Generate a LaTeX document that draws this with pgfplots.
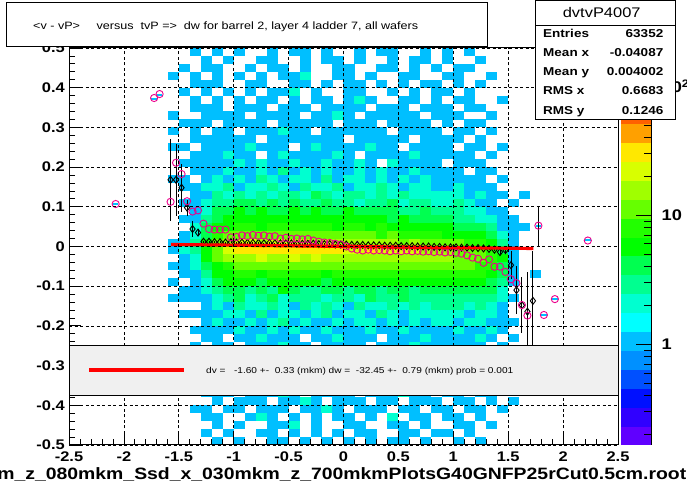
\documentclass[border=0pt]{standalone}
\usepackage{fontspec}
\setmainfont[FakeStretch=1.18]{Liberation Sans}
\usepackage{pgfplots}
\usepackage{pgfplotstable}
\pgfplotsset{compat=1.18}
\definecolor{lgray}{RGB}{240,240,240}
\definecolor{b6}{RGB}{0,191,255}
\definecolor{b8}{RGB}{0,255,208}
\definecolor{b9}{RGB}{0,255,144}
\definecolor{b10}{RGB}{0,255,80}
\definecolor{b11}{RGB}{0,255,0}
\definecolor{b12}{RGB}{34,255,0}
\definecolor{b13}{RGB}{102,255,0}
\definecolor{b14}{RGB}{160,255,0}
\definecolor{b15}{RGB}{216,255,0}
\definecolor{b16}{RGB}{255,232,0}
\pgfdeclareplotmark{cell}{\pgfpathrectangle{\pgfqpoint{-5.55bp}{-4.02bp}}{\pgfqpoint{11.1bp}{8.04bp}}\pgfusepathqfill}
\pgfdeclareplotmark{fcell}{\pgfpathrectangle{\pgfqpoint{-2.75bp}{-1bp}}{\pgfqpoint{5.5bp}{2bp}}\pgfusepathqfill}
\pgfdeclareplotmark{nocell}{}
\pgfplotsset{colormap={rootpal}{rgb255=(96,0,255) rgb255=(48,0,255) rgb255=(0,16,255) rgb255=(0,80,255) rgb255=(0,144,255) rgb255=(0,191,255) rgb255=(0,255,255) rgb255=(0,255,208) rgb255=(0,255,144) rgb255=(0,255,80) rgb255=(0,255,0) rgb255=(34,255,0) rgb255=(102,255,0) rgb255=(160,255,0) rgb255=(216,255,0) rgb255=(255,232,0) rgb255=(255,160,0) rgb255=(255,96,0) rgb255=(255,48,0) rgb255=(255,0,0) rgb255=(255,0,0)}}
% colour of a cell from its count (log colour scale, bands of 0.154 decade)
\pgfplotsset{histcells/.style={scatter, only marks, mark=cell, point meta=explicit symbolic,
  scatter/classes={0={mark=nocell},1={fill=b6},2={fill=b8},3={fill=b9},4={fill=b9},5={fill=b10},
  6={fill=b11},7={fill=b11},8={fill=b11},9={fill=b12},10={fill=b12},11={fill=b12},
  12={fill=b13},13={fill=b13},14={fill=b13},15={fill=b13},16={fill=b13},
  17={fill=b14},18={fill=b14},19={fill=b14},20={fill=b14},21={fill=b14},22={fill=b14},23={fill=b14},
  24={fill=b15},25={fill=b15},26={fill=b15},27={fill=b15},28={fill=b15},29={fill=b15},30={fill=b15},
  31={fill=b15},32={fill=b15},33={fill=b15},34={fill=b16},35={fill=b16},36={fill=b16},37={fill=b16},
  38={fill=b16},39={fill=b16},40={fill=b16},41={fill=b16},42={fill=b16},43={fill=b16},44={fill=b16},45={fill=b16}}}}
% counts per cell: columns x = -1.55, -1.45, ..., 1.75 ; rows y = 0.49 ... -0.49
\pgfplotstableread{
y a1 a2 a3 a4 a5 a6 a7 a8 a9 a10 a11 a12 a13 a14 a15 a16 a17 a18 a19 a20 a21 a22 a23 a24 a25 a26 a27 a28 a29 a30 a31 a32 a33 a34
0.49 0 0 1 0 1 0 1 0 0 1 0 1 1 0 1 0 0 1 0 1 1 0 0 1 0 1 0 1 0 0 0 0 0 0
0.47 0 0 0 1 0 1 0 0 1 1 0 0 1 0 1 1 0 1 0 0 1 0 1 1 0 1 0 0 1 0 0 0 0 0
0.45 0 1 0 1 1 0 0 1 0 1 1 0 1 0 0 1 1 0 0 1 1 0 1 0 1 0 1 1 0 0 0 0 0 0
0.43 1 0 1 0 1 0 1 0 1 0 1 1 2 0 0 1 1 0 1 0 0 1 1 0 0 1 1 0 0 1 0 0 0 0
0.41 0 0 1 1 1 0 0 1 1 0 0 1 1 0 1 0 1 1 0 1 0 1 0 1 1 0 1 0 1 0 0 0 0 0
0.39 0 1 0 1 0 1 0 1 0 1 1 2 0 1 0 0 1 1 0 0 1 0 1 0 1 1 0 1 0 0 0 0 0 0
0.37 0 0 1 0 1 0 1 0 1 1 0 1 0 1 1 0 1 2 1 0 0 1 1 0 1 0 1 1 0 0 1 0 0 0
0.35 0 0 1 1 1 0 1 1 1 0 1 1 1 0 1 1 1 1 0 1 1 1 0 1 1 1 0 1 1 0 0 0 0 0
0.33 1 0 0 1 1 1 1 0 1 1 1 1 0 1 1 2 1 0 1 1 1 1 1 0 1 1 1 0 0 1 0 0 0 0
0.31 0 1 1 1 0 1 1 1 1 0 1 1 1 1 1 0 1 1 1 0 1 1 1 1 0 1 0 1 1 0 0 0 0 0
0.29 1 0 1 0 1 1 0 1 1 1 2 1 1 0 1 1 1 1 1 1 0 1 1 1 1 0 1 1 0 1 0 0 0 0
0.27 0 0 1 1 1 1 1 1 0 1 1 1 1 1 1 1 0 1 1 1 1 1 0 1 1 1 1 0 1 0 0 0 0 0
0.25 1 1 0 1 1 1 1 2 1 1 1 0 1 2 1 1 1 1 2 1 1 0 1 1 1 1 0 1 1 0 1 0 0 0
0.23 0 0 1 1 1 2 1 1 0 1 2 1 1 1 1 2 1 0 1 1 1 1 2 1 1 1 1 1 0 1 0 0 0 0
0.21 0 1 1 1 1 1 2 1 2 1 1 2 1 1 2 1 1 2 1 0 2 1 1 1 1 0 1 1 1 0 0 0 0 0
0.19 0 0 1 1 1 2 1 1 2 1 3 1 2 1 2 1 1 2 1 2 1 1 2 1 1 1 1 0 1 1 0 0 0 0
0.17 1 1 0 1 2 1 2 1 3 2 1 2 2 1 3 1 2 2 1 2 1 2 1 2 1 1 1 1 1 0 1 0 0 0
0.15 0 1 1 2 2 3 1 2 2 3 2 1 3 2 2 3 1 2 2 3 2 1 2 2 1 1 2 1 1 1 0 0 0 0
0.13 0 0 1 1 3 2 3 2 3 2 3 3 2 5 3 2 3 3 2 3 2 3 2 2 2 2 2 1 2 1 1 0 1 0
0.11 0 1 1 2 3 3 5 5 3 5 3 5 3 3 5 3 3 2 3 3 5 2 3 3 2 2 3 2 1 1 0 1 0 0
0.09 0 0 1 2 5 5 6 5 6 5 5 6 5 6 5 5 6 5 5 5 5 3 3 5 3 3 3 2 2 1 1 0 0 0
0.07 0 1 1 3 5 6 7 6 7 8 6 7 6 8 7 6 7 6 6 7 5 6 5 5 5 5 3 3 2 2 1 1 0 0
0.05 0 0 2 5 6 8 10 9 8 10 11 9 10 9 10 8 9 10 8 9 8 7 8 6 6 6 5 5 5 3 1 1 1 0
0.03 0 1 2 5 9 12 14 13 15 14 13 16 14 15 13 14 12 13 12 11 12 10 11 10 9 8 8 7 6 5 2 1 0 0
0.01 1 1 3 6 12 20 24 26 22 25 28 24 26 23 25 22 20 22 19 18 20 16 17 15 14 13 12 11 9 6 3 1 0 0
-0.01 1 2 3 8 15 28 38 42 40 36 44 40 38 42 36 35 32 30 34 28 26 27 24 22 20 18 16 15 13 9 5 1 0 0
-0.03 0 1 2 6 12 18 22 20 24 22 20 24 22 25 21 23 20 22 21 20 22 19 20 18 18 17 16 15 14 10 6 1 0 0
-0.05 1 1 2 5 8 11 13 12 15 13 12 14 13 12 14 12 13 14 12 13 12 13 12 12 13 13 13 12 11 9 5 1 0 0
-0.07 0 1 1 3 6 8 9 10 8 10 9 11 9 10 8 9 10 9 10 9 10 9 10 9 10 10 10 9 9 7 5 1 0 1
-0.09 1 0 1 2 5 6 6 7 5 7 6 8 6 7 5 6 7 6 7 6 7 7 6 7 7 7 7 7 6 5 3 1 0 0
-0.11 0 1 1 2 3 5 5 3 5 3 6 5 3 3 5 5 3 5 5 3 5 5 3 5 5 5 5 5 5 5 2 0 0 0
-0.13 1 1 1 1 2 3 5 2 3 5 2 3 3 3 2 3 3 2 5 3 3 5 3 3 3 3 3 3 3 3 2 1 0 0
-0.15 0 0 0 1 2 1 3 2 2 3 2 1 3 2 3 2 1 3 2 2 3 2 3 2 3 3 3 2 3 2 1 0 0 0
-0.17 0 1 1 1 1 2 2 1 3 1 2 2 1 2 3 1 2 2 1 3 2 1 2 2 2 2 2 1 2 2 1 0 0 0
-0.19 0 0 0 1 2 1 1 2 1 2 3 1 2 1 1 2 1 2 2 1 2 1 2 1 2 2 1 2 2 1 1 1 0 0
-0.21 0 0 1 1 1 1 2 1 1 2 1 2 1 1 2 1 1 1 2 1 1 2 1 1 1 1 2 1 1 2 1 0 0 0
-0.23 0 0 0 1 1 0 1 1 2 1 1 1 0 1 1 2 1 1 1 0 1 1 1 2 1 1 1 1 2 1 0 1 0 0
-0.25 0 0 1 0 1 1 0 1 1 1 2 1 1 0 1 1 1 1 0 1 1 1 2 1 1 1 1 1 1 0 1 0 0 0
-0.37 0 0 0 1 1 1 0 1 1 1 2 1 0 1 1 1 1 0 1 1 1 2 1 1 0 1 1 0 1 1 0 0 0 0
-0.39 0 0 0 0 1 0 1 1 1 0 1 1 2 1 0 1 1 1 0 1 1 0 1 1 1 0 1 1 0 1 0 1 0 0
-0.41 0 0 1 1 0 1 1 0 1 1 1 0 1 1 2 1 0 1 1 1 0 1 1 0 1 1 0 1 1 0 1 0 0 0
-0.43 0 0 0 1 1 0 0 1 2 1 0 1 0 1 0 1 1 0 1 0 2 0 1 1 0 1 1 0 1 0 0 0 0 0
-0.45 0 0 0 0 1 0 1 0 0 1 1 2 0 1 0 0 1 1 0 0 1 1 0 1 0 0 1 1 0 1 0 0 0 0
-0.47 0 0 0 1 0 1 0 0 1 1 0 1 0 1 0 1 0 1 1 0 0 1 1 0 1 1 0 1 0 0 0 0 0 0
-0.49 0 0 0 0 1 0 1 0 0 1 1 0 1 0 1 0 1 0 1 0 1 1 0 1 0 0 1 0 1 0 0 0 0 0
}\hist
\begin{document}
\begin{tikzpicture}[x=1bp,y=1bp]
\useasboundingbox (0,0) rectangle (687,494);
\begin{axis}[
  at={(69bp,49bp)}, anchor=south west,
  scale only axis, width=549bp, height=397bp,
  xmin=-2.5, xmax=2.5, ymin=-0.5, ymax=0.5,
  axis on top, clip marker paths=true,
  xtick={-2.5,-2,-1.5,-1,-0.5,0,0.5,1,1.5,2,2.5},
  xticklabels={-2.5,-2,-1.5,-1,-0.5,0,0.5,1,1.5,2,2.5},
  ytick={-0.5,-0.4,-0.3,-0.2,-0.1,0,0.1,0.2,0.3,0.4,0.5},
  yticklabels={-0.5,-0.4,-0.3,-0.2,-0.1,0,0.1,0.2,0.3,0.4,0.5},
  minor x tick num=4, minor y tick num=4,
  tick align=inside, xtick pos=left, ytick pos=left,
  major tick length=12bp, minor tick length=6bp,
  tick style={black, line width=0.8bp},
  axis line style={line width=1bp},
  grid=major,
  major grid style={black, line width=0.7bp, dash pattern=on 3bp off 2.5bp},
  ticklabel style={font=\bfseries\fontsize{14}{14}\selectfont},
  xticklabel style={inner sep=0pt, anchor=north, yshift=-6.7bp},
  yticklabel style={inner sep=0pt, anchor=east, xshift=-4bp},
  colormap name=rootpal, colormap access=piecewise constant,
  point meta min=-0.78, point meta max=2.295,
  colorbar,
  colorbar style={
    at={(parent axis.south east)}, anchor=south west, xshift=-6bp,
    scale only axis, width=31bp, height=397bp,
    grid=none,
    axis x line=none, axis y line*=right,
    ytick={0,1,2}, yticklabels={1,10,10\textsuperscript{2}},
    minor ytick={-0.699,-0.523,-0.398,-0.301,-0.222,-0.155,-0.097,-0.046,0.301,0.477,0.602,0.699,0.778,0.845,0.903,0.954,1.301,1.477,1.602,1.699,1.778,1.845,1.903,1.954},
    tick align=inside, major tick length=16bp, minor tick length=8bp,
    tick style={black, line width=0.8bp},
    axis line style={line width=1bp},
    yticklabel style={font=\bfseries\fontsize{15.5}{15.5}\selectfont, anchor=west, inner sep=0pt, xshift=10bp},
  },
]
\pgfplotsinvokeforeach{1,...,34}{
  \addplot[histcells] table[x expr={-1.65+0.1*#1}, y index=0, meta index=#1] {\hist};
}
\addplot[histcells, mark=fcell] coordinates {
(-2.075,0.1075)[1] (-1.725,0.3725)[1] (-1.675,0.3825)[1] (1.775,0.0525)[1] (1.825,-0.1725)[1] (1.925,-0.1325)[1] (2.225,0.0175)[1]};
% black profile (diamonds)
\addplot[only marks, black, mark=diamond, mark size=3.5bp, mark options={line width=0.9bp},
  error bars/.cd, y dir=both, y explicit, error mark=none, error bar style={line width=0.9bp, black}]
  coordinates {
(-1.575,0.168) +- (0,0.103) (-1.525,0.168) +- (0,0.09) (-1.475,0.148) +- (0,0.06)
(-1.425,0.098) +- (0,0.02) (-1.375,0.044) +- (0,0.02) (-1.325,0.035) +- (0,0.008)
(-1.275,0.012) +- (0,0.002) (-1.225,0.012) +- (0,0.002) (-1.175,0.011) +- (0,0.002)
(-1.125,0.011) +- (0,0.002) (-1.075,0.010) +- (0,0.002) (-1.025,0.011) +- (0,0.002)
(-0.975,0.010) +- (0,0.002) (-0.925,0.010) +- (0,0.002) (-0.875,0.009) +- (0,0.002)
(-0.825,0.009) +- (0,0.002) (-0.775,0.009) +- (0,0.002) (-0.725,0.008) +- (0,0.002)
(-0.675,0.009) +- (0,0.002) (-0.625,0.008) +- (0,0.002) (-0.575,0.008) +- (0,0.002)
(-0.525,0.008) +- (0,0.002) (-0.475,0.008) +- (0,0.002) (-0.425,0.007) +- (0,0.002)
(-0.375,0.007) +- (0,0.002) (-0.325,0.007) +- (0,0.002) (-0.275,0.007) +- (0,0.002)
(-0.225,0.006) +- (0,0.002) (-0.175,0.006) +- (0,0.002) (-0.125,0.006) +- (0,0.002)
(-0.075,0.005) +- (0,0.002) (-0.025,0.005) +- (0,0.002) (0.025,0.005) +- (0,0.002)
(0.075,0.004) +- (0,0.002) (0.125,0.004) +- (0,0.002) (0.175,0.004) +- (0,0.002)
(0.225,0.003) +- (0,0.002) (0.275,0.003) +- (0,0.002) (0.325,0.003) +- (0,0.002)
(0.375,0.002) +- (0,0.002) (0.425,0.002) +- (0,0.002) (0.475,0.002) +- (0,0.002)
(0.525,0.001) +- (0,0.002) (0.575,0.001) +- (0,0.002) (0.625,0.001) +- (0,0.002)
(0.675,0.000) +- (0,0.002) (0.725,0.000) +- (0,0.002) (0.775,0.000) +- (0,0.002)
(0.825,-0.001) +- (0,0.002) (0.875,-0.001) +- (0,0.002) (0.925,-0.002) +- (0,0.002)
(0.975,-0.002) +- (0,0.002) (1.025,-0.002) +- (0,0.002) (1.075,-0.003) +- (0,0.002)
(1.125,-0.003) +- (0,0.002) (1.175,-0.004) +- (0,0.002) (1.225,-0.004) +- (0,0.002)
(1.275,-0.005) +- (0,0.002) (1.325,-0.006) +- (0,0.003) (1.375,-0.008) +- (0,0.003)
(1.425,-0.014) +- (0,0.005) (1.475,-0.009) +- (0,0.008) (1.525,-0.047) +- (0,0.035)
(1.575,-0.110) +- (0,0.06) (1.625,-0.148) +- (0,0.07) (1.675,-0.164) +- (0,0.1)
(1.725,-0.137) +- (0,0.125)
};
% magenta profile (circles)
\addplot[only marks, magenta, mark=o, mark size=3.6bp, mark options={line width=0.9bp},
  error bars/.cd, y dir=both, y explicit, error mark=none, error bar style={line width=0.9bp, black}]
  coordinates {
(-2.075,0.107) (-1.725,0.374) (-1.675,0.384) (-1.575,0.1125) (-1.525,0.211) (-1.475,0.1825)
(-1.425,0.114) (-1.375,0.088) (-1.325,0.091) (-1.275,0.0575) (-1.225,0.044) (-1.175,0.0425)
(-1.125,0.0425) (-1.075,0.0425) (-1.025,0.023) (-0.975,0.024) (-0.925,0.028) (-0.875,0.026)
(-0.825,0.029) (-0.775,0.027) (-0.725,0.028) (-0.675,0.025) (-0.625,0.026) (-0.575,0.020)
(-0.525,0.022) (-0.475,0.019) (-0.425,0.020) (-0.375,0.018) (-0.325,0.019) (-0.275,0.015)
(-0.225,0.012) (-0.175,0.010) (-0.125,0.009) (-0.075,0.007) (-0.025,0.005) (0.025,0.000)
(0.075,-0.005) (0.125,-0.008) (0.175,-0.010) (0.225,-0.008) (0.275,-0.010) (0.325,-0.009)
(0.375,-0.010) (0.425,-0.012) (0.475,-0.010) (0.525,-0.012) (0.575,-0.010) (0.625,-0.012)
(0.675,-0.011) (0.725,-0.013) (0.775,-0.012) (0.825,-0.014) (0.875,-0.013) (0.925,-0.015)
(0.975,-0.014) (1.025,-0.016) (1.075,-0.018) (1.125,-0.0225) (1.175,-0.028) (1.225,-0.031)
(1.275,-0.041) (1.325,-0.0325) (1.375,-0.051) (1.425,-0.051) (1.475,-0.064) (1.525,-0.0825)
(1.575,-0.0925) (1.625,-0.1475) (1.675,-0.174) (1.775,0.0525) +- (0,0.05) (1.825,-0.1725)
(1.925,-0.1325) (2.225,0.015)
};
% fit line
\addplot[red, line width=3.2bp] coordinates {(-1.57,0.005) (1.73,-0.005)};
\end{axis}
% legend box
\draw[line width=1bp, fill=lgray] (69,98.7) rectangle (618,148);
\draw[red, line width=3.2bp] (89,124) -- (184,124);
\node[anchor=base west, inner sep=0pt, font=\fontsize{8.6}{8.6}\selectfont] at (206,120.2)
  {dv =\ \ \ -1.60 +-\ \ 0.33 (mkm) dw =\ \ -32.45 +-\ \ 0.79 (mkm) prob = 0.001};
% title box
\draw[line width=1bp, fill=white] (6.6,447.3) rectangle (487,491.3);
\node[anchor=base west, inner sep=0pt, font=\fontsize{10.7}{10.7}\selectfont] at (33,464.7) {<v - vP>};
\node[anchor=base west, inner sep=0pt, font=\fontsize{10.7}{10.7}\selectfont] at (96.4,464.7)
  {versus\ \ tvP =>\ \ dw for barrel 2, layer 4 ladder 7, all wafers};
% stats box
\draw[line width=1bp, fill=white] (535,374) rectangle (675,493.5);
\draw[line width=1bp] (535,468) -- (675,468);
\node[anchor=base, inner sep=0pt, font=\fontsize{14}{14}\selectfont] at (601.7,476.7) {dvtvP4007};
\begin{scope}[every node/.style={inner sep=0pt, font=\bfseries\fontsize{11.5}{11.5}\selectfont}]
\node[anchor=base west] at (543,456.4) {Entries};
\node[anchor=base east] at (663.5,456.4) {63352};
\node[anchor=base west] at (543,437.9) {Mean x};
\node[anchor=base east] at (663.5,437.9) {-0.04087};
\node[anchor=base west] at (543,418.9) {Mean y};
\node[anchor=base east] at (663.5,418.9) {0.004002};
\node[anchor=base west] at (543,399.9) {RMS x};
\node[anchor=base east] at (663.5,399.9) {0.6683};
\node[anchor=base west] at (543,379.9) {RMS y};
\node[anchor=base east] at (663.5,379.9) {0.1246};
\end{scope}
% x axis title (clipped at the left edge)
\node[anchor=base east, inner sep=0pt, font=\bfseries\fontsize{16.5}{16.5}\selectfont] at (686.5,14)
  {m\_z\_080mkm\_Ssd\_x\_030mkm\_z\_700mkmPlotsG40GNFP25rCut0.5cm.root};
\end{tikzpicture}
\end{document}
